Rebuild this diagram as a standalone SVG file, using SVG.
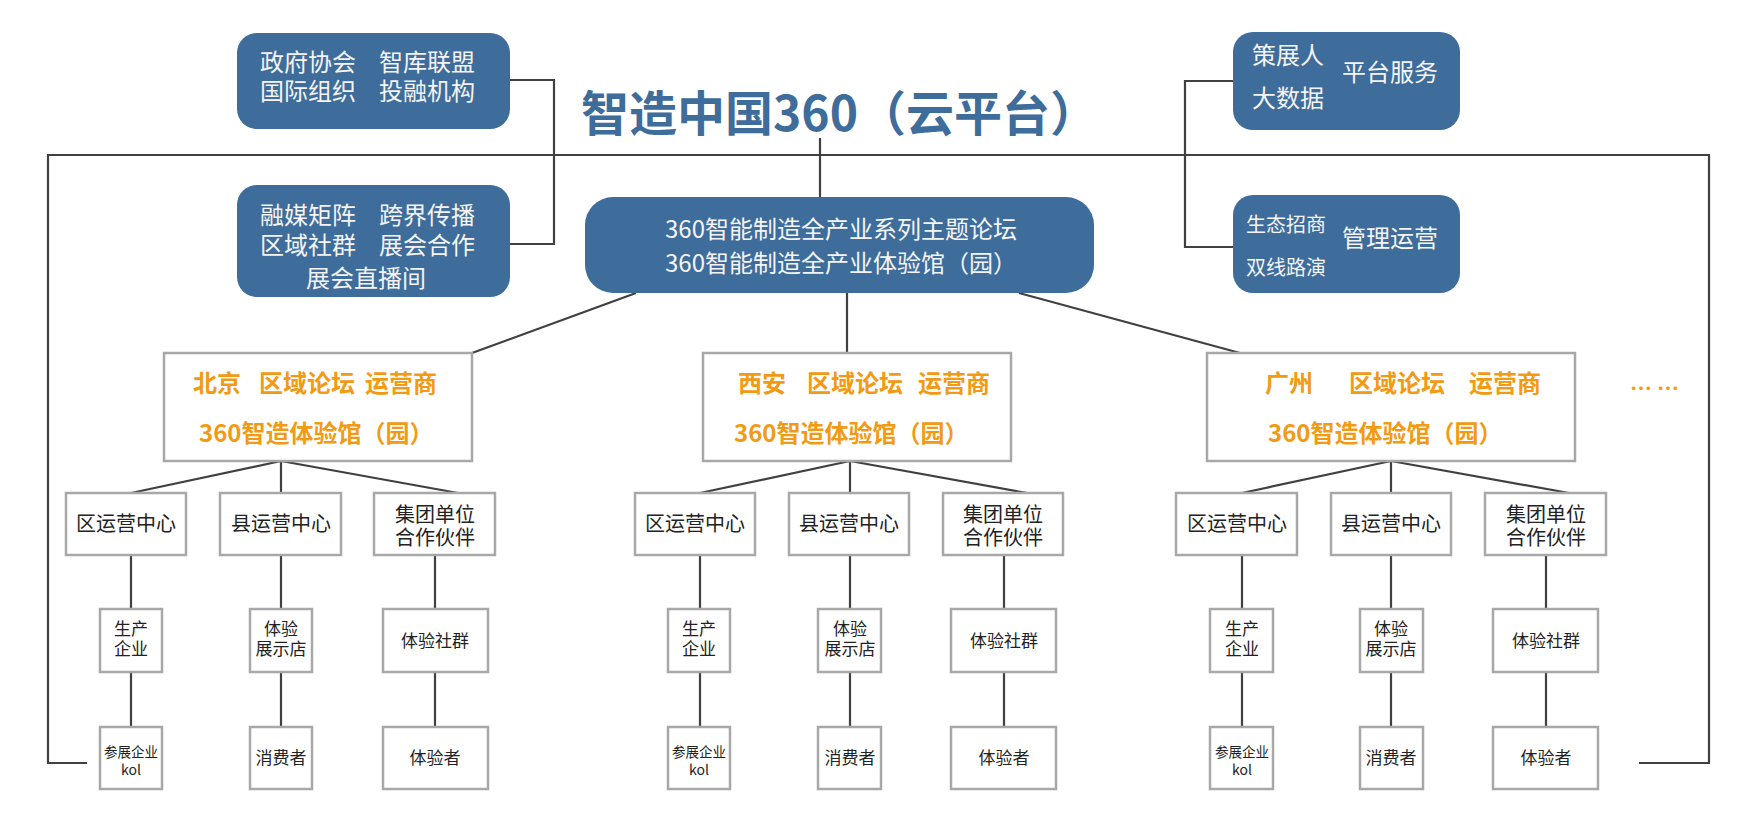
<svg xmlns="http://www.w3.org/2000/svg" width="1757" height="839" viewBox="0 0 1757 839">
<style>
text{font-family:"Noto Sans CJK SC","Liberation Sans",sans-serif}
.blue{fill:#3E6C9B}
.wt{fill:#F4F4F4;font-size:24px}
.wt20{fill:#F4F4F4;font-size:20px}
.org{fill:#F39A14;font-size:24px;font-weight:bold}
.box{fill:#fff;stroke:#A8A8A8;stroke-width:2.5}
.dk{fill:#222;font-size:20px;text-anchor:middle}
.sm{fill:#222;font-size:17px;text-anchor:middle}
.xs{fill:#222;font-size:13.5px;text-anchor:middle}
.ln{fill:none;stroke:#404040;stroke-width:2.2}
</style>
<rect width="1757" height="839" fill="#fff"/>
<g id="connectors" class="ln">
<path d="M510,80 H554 V244 H510"/>
<path d="M87,763 H48 V155 H1709 V763 H1639"/>
<path d="M820,138 V197"/>
<path d="M1233,81 H1185 V247 H1233"/>
<path d="M636,293 L472,353"/>
<path d="M847,293 V353"/>
<path d="M1019,293 L1240,353"/>
<path d="M281,461 L131,493 M281,461 V493 M281,461 L458,493"/>
<path d="M850,461 L700,493 M850,461 V493 M850,461 L1027,493"/>
<path d="M1391,461 L1242,493 M1391,461 V493 M1391,461 L1569,493"/>
<path d="M131,555 V609 M131,672 V727 M281,555 V609 M281,672 V727 M435,555 V609 M435,672 V727"/>
<path d="M700,555 V609 M700,672 V727 M850,555 V609 M850,672 V727 M1004,555 V609 M1004,672 V727"/>
<path d="M1242,555 V609 M1242,672 V727 M1391,555 V609 M1391,672 V727 M1546,555 V609 M1546,672 V727"/>
</g>
<g id="title"><text x="581" y="131" class="blue" style="font-size:48px;font-weight:bold">智造中国360（云平台）</text></g>
<g id="gov">
<rect x="237" y="33" width="273" height="96" rx="20" class="blue"/>
<text class="wt"><tspan x="260" y="71">政府协会</tspan><tspan x="379" y="71">智库联盟</tspan><tspan x="260" y="100">国际组织</tspan><tspan x="379" y="100">投融机构</tspan></text>
</g>
<g id="media">
<rect x="237" y="185" width="273" height="112" rx="20" class="blue"/>
<text class="wt"><tspan x="260" y="224">融媒矩阵</tspan><tspan x="379" y="224">跨界传播</tspan><tspan x="260" y="254">区域社群</tspan><tspan x="379" y="254">展会合作</tspan><tspan x="306" y="287">展会直播间</tspan></text>
</g>
<g id="center">
<rect x="585" y="197" width="509" height="96" rx="28" class="blue"/>
<text class="wt"><tspan x="665" y="238">360智能制造全产业系列主题论坛</tspan><tspan x="665" y="272">360智能制造全产业体验馆（园）</tspan></text>
</g>
<g id="platform">
<rect x="1233" y="32" width="227" height="98" rx="20" class="blue"/>
<text class="wt"><tspan x="1252" y="64">策展人</tspan><tspan x="1252" y="107">大数据</tspan></text>
<text class="wt" x="1342" y="81">平台服务</text>
</g>
<g id="ops">
<rect x="1233" y="195" width="227" height="98" rx="20" class="blue"/>
<text class="wt20"><tspan x="1246" y="232">生态招商</tspan><tspan x="1246" y="275">双线路演</tspan></text>
<text class="wt" x="1342" y="247">管理运营</text>
</g>
<g id="beijing">
<rect x="164" y="353" width="308" height="108" class="box"/>
<text class="org"><tspan x="193" y="392">北京</tspan><tspan x="259" y="392">区域论坛</tspan><tspan x="365" y="392">运营商</tspan><tspan x="199" y="442">360智造体验馆（园）</tspan></text>
</g>
<g id="xian">
<rect x="703" y="353" width="308" height="108" class="box"/>
<text class="org"><tspan x="738" y="392">西安</tspan><tspan x="807" y="392">区域论坛</tspan><tspan x="918" y="392">运营商</tspan><tspan x="734" y="442">360智造体验馆（园）</tspan></text>
</g>
<g id="guangzhou">
<rect x="1207" y="353" width="368" height="108" class="box"/>
<text class="org"><tspan x="1265" y="392">广州</tspan><tspan x="1349" y="392">区域论坛</tspan><tspan x="1469" y="392">运营商</tspan><tspan x="1268" y="442">360智造体验馆（园）</tspan></text>
</g>
<g id="more"><text class="org" x="1630" y="396" style="font-size:22px">… …</text></g>
<g id="bj-l2">
<rect x="66" y="493" width="120" height="62" class="box"/><text class="dk" x="126" y="531">区运营中心</text>
<rect x="220" y="493" width="121" height="62" class="box"/><text class="dk" x="281" y="531">县运营中心</text>
<rect x="374" y="493" width="121" height="62" class="box"/><text class="dk"><tspan x="435" y="522">集团单位</tspan><tspan x="435" y="545">合作伙伴</tspan></text>
</g>
<g id="xa-l2">
<rect x="635" y="493" width="120" height="62" class="box"/><text class="dk" x="695" y="531">区运营中心</text>
<rect x="789" y="493" width="120" height="62" class="box"/><text class="dk" x="849" y="531">县运营中心</text>
<rect x="943" y="493" width="120" height="62" class="box"/><text class="dk"><tspan x="1003" y="522">集团单位</tspan><tspan x="1003" y="545">合作伙伴</tspan></text>
</g>
<g id="gz-l2">
<rect x="1176" y="493" width="121" height="62" class="box"/><text class="dk" x="1237" y="531">区运营中心</text>
<rect x="1331" y="493" width="120" height="62" class="box"/><text class="dk" x="1391" y="531">县运营中心</text>
<rect x="1485" y="493" width="121" height="62" class="box"/><text class="dk"><tspan x="1546" y="522">集团单位</tspan><tspan x="1546" y="545">合作伙伴</tspan></text>
</g>
<g id="bj-l3">
<rect x="100" y="609" width="62" height="63" class="box"/><text class="sm"><tspan x="131" y="635">生产</tspan><tspan x="131" y="655">企业</tspan></text>
<rect x="250" y="609" width="62" height="63" class="box"/><text class="sm"><tspan x="281" y="635">体验</tspan><tspan x="281" y="655">展示店</tspan></text>
<rect x="383" y="609" width="105" height="63" class="box"/><text class="sm" x="435" y="647">体验社群</text>
</g>
<g id="bj-l4">
<rect x="100" y="727" width="62" height="62" class="box"/><text class="xs"><tspan x="131" y="757">参展企业</tspan><tspan x="131" y="775" style="font-size:14px">kol</tspan></text>
<rect x="250" y="727" width="62" height="62" class="box"/><text class="sm" x="281" y="764">消费者</text>
<rect x="383" y="727" width="105" height="62" class="box"/><text class="sm" x="435" y="764">体验者</text>
</g>
<g id="xa-l3">
<rect x="668" y="609" width="62" height="63" class="box"/><text class="sm"><tspan x="699" y="635">生产</tspan><tspan x="699" y="655">企业</tspan></text>
<rect x="818" y="609" width="63" height="63" class="box"/><text class="sm"><tspan x="850" y="635">体验</tspan><tspan x="850" y="655">展示店</tspan></text>
<rect x="951" y="609" width="105" height="63" class="box"/><text class="sm" x="1004" y="647">体验社群</text>
</g>
<g id="xa-l4">
<rect x="668" y="727" width="62" height="62" class="box"/><text class="xs"><tspan x="699" y="757">参展企业</tspan><tspan x="699" y="775" style="font-size:14px">kol</tspan></text>
<rect x="818" y="727" width="63" height="62" class="box"/><text class="sm" x="850" y="764">消费者</text>
<rect x="951" y="727" width="105" height="62" class="box"/><text class="sm" x="1004" y="764">体验者</text>
</g>
<g id="gz-l3">
<rect x="1210" y="609" width="63" height="63" class="box"/><text class="sm"><tspan x="1242" y="635">生产</tspan><tspan x="1242" y="655">企业</tspan></text>
<rect x="1360" y="609" width="63" height="63" class="box"/><text class="sm"><tspan x="1391" y="635">体验</tspan><tspan x="1391" y="655">展示店</tspan></text>
<rect x="1493" y="609" width="105" height="63" class="box"/><text class="sm" x="1546" y="647">体验社群</text>
</g>
<g id="gz-l4">
<rect x="1210" y="727" width="63" height="62" class="box"/><text class="xs"><tspan x="1242" y="757">参展企业</tspan><tspan x="1242" y="775" style="font-size:14px">kol</tspan></text>
<rect x="1360" y="727" width="63" height="62" class="box"/><text class="sm" x="1391" y="764">消费者</text>
<rect x="1493" y="727" width="105" height="62" class="box"/><text class="sm" x="1546" y="764">体验者</text>
</g>
</svg>
